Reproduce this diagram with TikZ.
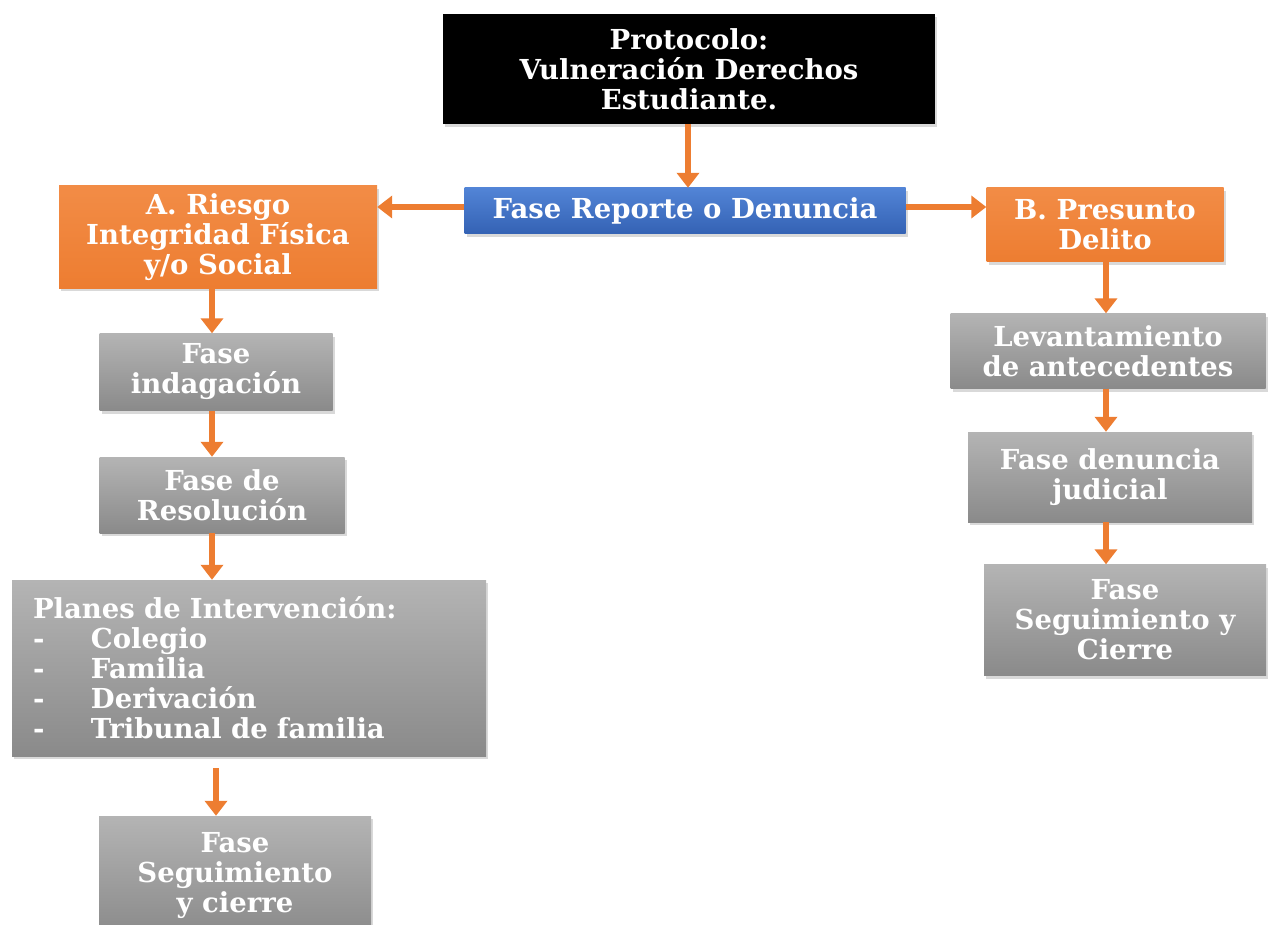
\documentclass[tikz,border=0pt]{standalone}
\usepackage{fontspec}
\setmainfont{DejaVu Serif}
\usetikzlibrary{arrows.meta,shadows}

\definecolor{naranja}{RGB}{237,125,49}
\definecolor{naranjaclaro}{RGB}{242,140,70}
\definecolor{azularriba}{RGB}{82,132,214}
\definecolor{azulabajo}{RGB}{52,98,180}
\definecolor{grisarriba}{RGB}{180,180,180}
\definecolor{grisabajo}{RGB}{138,138,138}

\tikzset{
  caja/.style={inner sep=2pt, text=white, align=center,
    font=\bfseries\fontsize{27.5}{30}\selectfont,
    drop shadow={opacity=0.3,shadow xshift=2pt,shadow yshift=-3pt}},
  negra/.style={caja, fill=black},
  azul/.style={caja, top color=azularriba, bottom color=azulabajo},
  naranjo/.style={caja, top color=naranjaclaro, bottom color=naranja},
  gris/.style={caja, top color=grisarriba, bottom color=grisabajo},
  flecha/.style={draw=naranja, line width=5.5pt,
    -{Triangle[width=22pt,length=15pt]}},
}

\begin{document}
\begin{tikzpicture}[x=1pt,y=1pt]
  \useasboundingbox (0,0) rectangle (1268,-925);
  \clip (0,0) rectangle (1268,-925);

  % cajas
  \node[negra, minimum width=492pt, minimum height=110pt] (protocolo) at (689,-69)
    {Protocolo:\\Vulneración Derechos\\Estudiante.};
  \node[azul, minimum width=441pt, minimum height=46pt] (reporte) at (685,-211)
    {Fase Reporte o Denuncia};
  \node[naranjo, minimum width=318pt, minimum height=102pt] (riesgo) at (218,-237)
    {A. Riesgo\\Integridad Física\\y/o Social};
  \node[naranjo, minimum width=237pt, minimum height=74pt] (presunto) at (1105,-225)
    {B. Presunto\\Delito};

  \node[gris, minimum width=233pt, minimum height=77pt] (indaga) at (216,-372)
    {Fase\\indagación};
  \node[gris, minimum width=245pt, minimum height=76pt] (resol) at (222,-495)
    {Fase de\\Resolución};
  \node[gris, text width=432pt, inner xsep=21pt, align=left, minimum height=176pt] (planes) at (249,-668)
    {Planes de Intervención:\\
     \makebox[58pt][l]{-}Colegio\\
     \makebox[58pt][l]{-}Familia\\
     \makebox[58pt][l]{-}Derivación\\
     \makebox[58pt][l]{-}Tribunal de familia};
  \node[gris, minimum width=272pt, minimum height=120pt] (seguiA) at (235,-876)
    {Fase\\Seguimiento\\y cierre};

  \node[gris, minimum width=315pt, minimum height=75pt] (levanta) at (1108,-351)
    {Levantamiento\\de antecedentes};
  \node[gris, minimum width=284pt, minimum height=90pt] (denjud) at (1110,-477)
    {Fase denuncia\\judicial};
  \node[gris, minimum width=282pt, minimum height=111pt] (seguiB) at (1125,-620)
    {Fase\\Seguimiento y\\Cierre};

  % ejes de las flechas
  \coordinate (xc) at (688,0);
  \coordinate (xa) at (212,0);
  \coordinate (xs) at (216,0);
  \coordinate (xb) at (1106,0);

  \draw[flecha] (protocolo.south -| xc) -- (reporte.north -| xc);
  \draw[flecha] ([yshift=4pt]reporte.west) -- ([yshift=4pt]reporte.west -| riesgo.east);
  \draw[flecha] ([yshift=4pt]reporte.east) -- ([yshift=4pt]reporte.east -| presunto.west);

  \draw[flecha] (riesgo.south -| xa) -- (indaga.north -| xa);
  \draw[flecha] (indaga.south -| xa) -- (resol.north -| xa);
  \draw[flecha] (resol.south -| xa) -- (planes.north -| xa);
  \draw[flecha] ([yshift=-12pt]planes.south -| xs) -- (seguiA.north -| xs);

  \draw[flecha] (presunto.south -| xb) -- (levanta.north -| xb);
  \draw[flecha] (levanta.south -| xb) -- (denjud.north -| xb);
  \draw[flecha] (denjud.south -| xb) -- (seguiB.north -| xb);
\end{tikzpicture}
\end{document}
